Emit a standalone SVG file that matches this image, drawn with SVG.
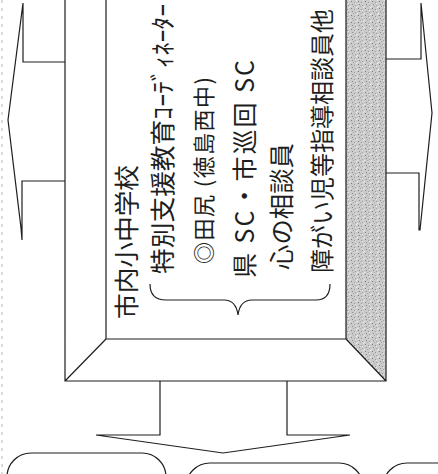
<svg xmlns="http://www.w3.org/2000/svg" width="438" height="474" viewBox="0 0 438 474">
<style>
.ln{fill:none;stroke:#1e1e1e;stroke-width:1.2;stroke-linejoin:miter}
.bx{fill:#fff;stroke:#1e1e1e;stroke-width:1.2}
.t{font-family:"Noto Sans CJK JP","Noto Sans CJK SC",sans-serif;fill:#1e1e1e;dominant-baseline:central}
.f25{font-size:25px}
.f24{font-size:24px}
.f22{font-size:22px}
</style>
<defs>
<pattern id="stip" width="7" height="7" patternUnits="userSpaceOnUse">
<rect width="7" height="7" fill="#cbcbcb"/>
<rect x="1" y="1" width="1" height="1" fill="#7f7f7f"/>
<rect x="4" y="2" width="1" height="1" fill="#999"/>
<rect x="2" y="4" width="1" height="1" fill="#8d8d8d"/>
<rect x="5" y="5" width="1" height="1" fill="#a2a2a2"/>
<rect x="6" y="0" width="1" height="1" fill="#ececec"/>
<rect x="0" y="6" width="1" height="1" fill="#ececec"/>
<rect x="3" y="6" width="1" height="1" fill="#adadad"/>
<rect x="5" y="3" width="1" height="1" fill="#e6e6e6"/>
</pattern>
</defs>
<rect width="438" height="474" fill="#fff"/>
<line x1="2" y1="0" x2="2" y2="474" stroke="#b8b8b8" stroke-width="1" stroke-dasharray="3 5"/>

<g id="connectors">
<polyline class="ln" points="65,62 23,62 23,3 8,120 21,228 22,240 22,181 65,181"/>
<polyline class="ln" points="386,59 421,59 421,3 432,113 420,230 419,230 419,173 386,173"/>
<polyline class="ln" points="160,381 160,435 96,435 223,453 350,435 287,435 287,381"/>
</g>

<g id="school">
<polygon points="346,-2 386,-2 386,381 346,339" fill="url(#stip)"/>
<path class="ln" d="M65,-2 V381 H386 V-2 M106,-2 V339 H346 V-2 M65,381 L106,339 M386,381 L346,339"/>
<text class="t f25" transform="translate(125,319) rotate(-90)" textLength="154" lengthAdjust="spacingAndGlyphs">市内小中学校</text>
<text class="t f25" transform="translate(161,274) rotate(-90)" textLength="270" lengthAdjust="spacingAndGlyphs">特別支援教育ｺｰﾃﾞｨﾈｰﾀｰ</text>
<text class="t f22" transform="translate(202,264) rotate(-90)" textLength="187" lengthAdjust="spacing">◎田尻 (徳島西中)</text>
<text class="t f25" transform="translate(243,278) rotate(-90)" textLength="218" lengthAdjust="spacing">県 SC・市巡回 SC</text>
<text class="t f25" transform="translate(280,270) rotate(-90)" textLength="127" lengthAdjust="spacingAndGlyphs">心の相談員</text>
<text class="t f24" transform="translate(320,273) rotate(-90)">障がい児等指導相談員他</text>
<path class="ln" d="M150,284 Q150,300 166,300 L224,300 Q236,300 238,315 Q240,300 252,300 L316,300 Q330,300 330,284"/>
</g>

<g id="box1"><rect class="bx" x="7" y="453" width="159" height="60" rx="24" ry="24"/></g>
<g id="box2"><rect class="bx" x="186" y="463" width="177" height="60" rx="24" ry="24"/></g>
<g id="box3"><rect class="bx" x="383" y="463" width="100" height="60" rx="24" ry="24"/></g>
</svg>
